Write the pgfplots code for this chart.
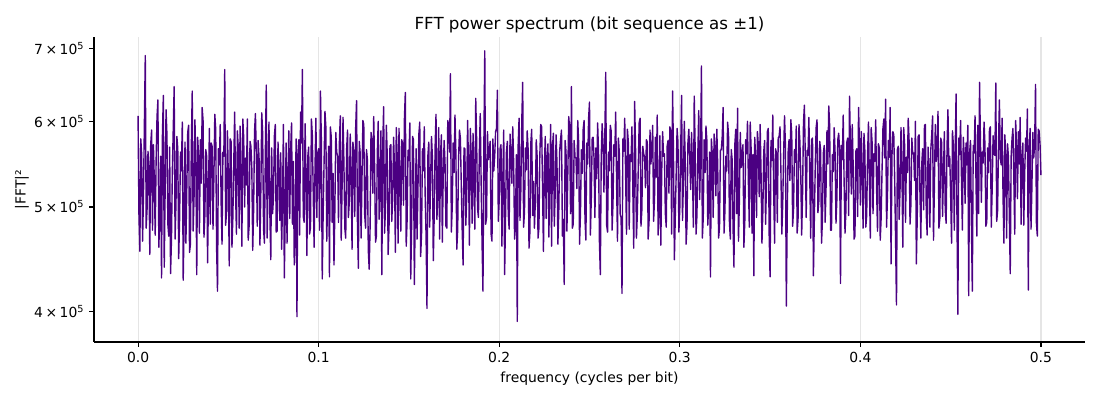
\documentclass[border=0pt]{standalone}
\usepackage{fontspec}
\setmainfont{DejaVu Sans}
\usepackage{pgfplots}
\usepackage{pgfplotstable}
\pgfplotsset{compat=1.18}
\definecolor{ind}{HTML}{4B0082}
\pgfplotstableread[row sep=\\]{
y\\
607\\490\\455\\578\\560\\465\\512\\597\\690\\478\\498\\563\\545\\452\\571\\589\\476\\571\\530\\471\\552\\606\\628\\459\\489\\557\\430\\583\\634\\440\\517\\615\\583\\482\\470\\568\\434\\466\\541\\592\\
646\\467\\503\\581\\566\\448\\487\\562\\540\\599\\428\\484\\574\\463\\521\\586\\595\\454\\462\\569\\640\\475\\509\\602\\548\\433\\580\\559\\473\\577\\526\\618\\601\\469\\491\\565\\557\\444\\515\\591\\
482\\573\\569\\477\\533\\609\\590\\458\\418\\566\\547\\596\\505\\462\\562\\557\\670\\481\\494\\588\\531\\441\\578\\575\\459\\489\\549\\612\\516\\472\\588\\567\\478\\594\\537\\460\\603\\580\\500\\555\\
524\\603\\466\\480\\575\\569\\543\\456\\497\\587\\610\\558\\480\\576\\556\\461\\518\\611\\585\\477\\463\\564\\648\\468\\527\\599\\492\\447\\567\\493\\510\\582\\596\\474\\475\\574\\540\\486\\561\\457\\
505\\596\\430\\494\\573\\463\\529\\588\\488\\565\\598\\482\\551\\442\\469\\578\\396\\559\\577\\471\\612\\573\\670\\490\\484\\597\\536\\451\\557\\568\\472\\479\\603\\583\\515\\459\\545\\604\\489\\561\\
566\\476\\640\\578\\429\\492\\548\\613\\593\\465\\512\\569\\431\\593\\580\\484\\537\\442\\499\\586\\562\\557\\484\\574\\607\\466\\523\\605\\550\\478\\468\\565\\589\\489\\506\\584\\541\\457\\574\\560\\
490\\591\\627\\482\\439\\575\\561\\468\\529\\601\\596\\492\\478\\565\\553\\456\\438\\479\\586\\578\\515\\606\\545\\464\\470\\562\\600\\487\\527\\588\\433\\570\\619\\473\\497\\595\\558\\452\\481\\569\\
571\\485\\509\\580\\544\\454\\592\\557\\463\\591\\530\\475\\577\\572\\502\\603\\638\\460\\486\\564\\552\\598\\429\\481\\581\\577\\424\\493\\566\\467\\519\\584\\599\\450\\473\\566\\540\\593\\512\\470\\
403\\558\\574\\479\\528\\581\\556\\446\\490\\568\\609\\487\\515\\592\\467\\559\\583\\464\\535\\576\\549\\480\\478\\601\\595\\562\\664\\474\\501\\573\\538\\608\\562\\457\\476\\555\\589\\579\\524\\476\\
442\\567\\566\\481\\510\\601\\547\\461\\591\\558\\483\\585\\532\\477\\630\\576\\498\\489\\561\\610\\526\\463\\418\\571\\697\\482\\489\\587\\553\\564\\575\\472\\465\\578\\540\\557\\587\\591\\641\\485\\
507\\566\\571\\460\\532\\589\\433\\488\\562\\575\\493\\477\\584\\562\\526\\593\\550\\467\\480\\559\\392\\571\\604\\486\\519\\601\\652\\479\\495\\567\\541\\588\\566\\458\\474\\573\\590\\491\\528\\478\\
505\\577\\557\\468\\478\\559\\596\\593\\520\\455\\543\\581\\488\\556\\572\\469\\531\\596\\460\\568\\585\\480\\514\\583\\549\\462\\497\\564\\578\\589\\470\\487\\424\\576\\562\\475\\538\\606\\591\\493\\
646\\478\\482\\576\\556\\555\\520\\601\\573\\462\\494\\565\\537\\590\\601\\487\\466\\573\\548\\604\\625\\471\\510\\579\\580\\555\\489\\567\\531\\598\\562\\464\\433\\557\\597\\572\\516\\583\\666\\481\\
474\\562\\540\\595\\588\\476\\503\\571\\557\\612\\526\\465\\579\\562\\492\\489\\416\\578\\563\\604\\535\\472\\590\\574\\477\\559\\551\\593\\518\\458\\626\\567\\468\\493\\543\\598\\604\\480\\497\\569\\
560\\556\\521\\577\\574\\467\\486\\589\\548\\563\\595\\485\\509\\580\\533\\608\\471\\494\\582\\461\\540\\587\\557\\560\\493\\479\\569\\576\\515\\593\\588\\472\\640\\563\\447\\489\\536\\591\\574\\474\\
498\\565\\634\\486\\527\\600\\555\\462\\481\\573\\590\\557\\519\\586\\546\\479\\633\\568\\472\\491\\561\\614\\508\\556\\675\\468\\489\\577\\538\\594\\576\\481\\502\\562\\431\\578\\559\\489\\584\\567\\
512\\590\\547\\468\\479\\564\\565\\581\\618\\473\\496\\557\\540\\599\\582\\484\\467\\565\\553\\478\\440\\572\\590\\493\\617\\465\\506\\586\\544\\561\\571\\459\\485\\577\\560\\600\\526\\479\\599\\566\\
473\\559\\432\\580\\556\\489\\587\\570\\511\\596\\538\\463\\495\\563\\576\\482\\523\\587\\591\\471\\431\\576\\552\\608\\517\\463\\566\\561\\484\\579\\581\\593\\540\\472\\503\\558\\607\\570\\405\\492\\
562\\577\\529\\602\\584\\480\\498\\565\\550\\594\\473\\488\\596\\575\\537\\471\\515\\598\\621\\557\\489\\564\\558\\605\\530\\468\\577\\579\\432\\486\\543\\592\\602\\494\\506\\575\\564\\463\\487\\561\\
570\\484\\521\\588\\548\\620\\594\\476\\476\\559\\539\\592\\561\\483\\509\\577\\585\\564\\425\\570\\553\\608\\527\\473\\496\\574\\579\\491\\633\\568\\514\\596\\548\\467\\470\\563\\566\\490\\618\\571\\
502\\587\\544\\478\\585\\563\\479\\491\\560\\599\\527\\468\\592\\574\\493\\560\\551\\602\\518\\475\\572\\567\\466\\488\\540\\591\\603\\555\\629\\479\\510\\576\\556\\618\\443\\557\\587\\583\\532\\466\\
406\\565\\569\\487\\521\\592\\546\\459\\592\\571\\484\\556\\538\\604\\575\\482\\503\\579\\560\\561\\529\\600\\443\\489\\581\\583\\515\\468\\548\\566\\497\\595\\596\\492\\471\\568\\543\\479\\565\\582\\
607\\466\\522\\596\\551\\564\\613\\478\\488\\579\\574\\490\\534\\587\\497\\483\\569\\615\\545\\557\\512\\463\\588\\571\\476\\561\\636\\487\\398\\579\\559\\601\\530\\476\\580\\558\\504\\573\\547\\595\\
414\\561\\576\\482\\418\\570\\561\\607\\532\\470\\595\\493\\652\\576\\505\\562\\549\\599\\571\\480\\484\\567\\538\\590\\593\\479\\520\\582\\560\\558\\651\\485\\496\\571\\628\\555\\547\\604\\512\\463\\
583\\560\\468\\572\\556\\489\\434\\557\\579\\591\\530\\472\\601\\568\\509\\587\\548\\605\\482\\556\\573\\481\\537\\579\\563\\616\\419\\563\\591\\477\\522\\586\\555\\570\\649\\483\\470\\590\\588\\571\\
535\\
}\spec

\begin{document}
\begin{tikzpicture}
\path[use as bounding box] (-67.68pt,-41.76pt) rectangle (724.32pt,246.24pt);
\begin{axis}[
  at={(0,0)}, anchor=south west,
  scale only axis, width=713.52pt, height=219.6pt,
  xmin=-0.0244, xmax=0.5244,
  ymode=log, ymin=375.3, ymax=718,
  axis lines*=left,
  axis line style={line width=0.8pt, black},
  every tick/.style={line width=0.8pt, black},
  tick align=outside, major tick length=3.5pt,
  xtick={0,0.1,0.2,0.3,0.4,0.5},
  xticklabels={0.0,0.1,0.2,0.3,0.4,0.5},
  ytick={400,500,600,700},
  yticklabels={4\hspace{0.18em}×\hspace{0.18em}10\textsuperscript{5},5\hspace{0.18em}×\hspace{0.18em}10\textsuperscript{5},6\hspace{0.18em}×\hspace{0.18em}10\textsuperscript{5},7\hspace{0.18em}×\hspace{0.18em}10\textsuperscript{5}},
  yminorticks=false, xminorticks=false,
  xmajorgrids, grid style={black!10, line width=0.8pt},
  tick label style={font=\fontsize{10}{12}\selectfont},
  label style={font=\fontsize{10}{12}\selectfont},
  title={FFT power spectrum (bit sequence as ±1)},
  title style={font=\fontsize{12}{14.4}\selectfont, yshift=-6.5pt},
  xlabel={frequency (cycles per bit)},
  ylabel={|FFT|²},
  every axis y label/.style={at={(axis description cs:0,0.5)}, xshift=-51.8pt, rotate=90, anchor=center},
  clip=true,
]
\addplot[ind, line width=1pt, no markers, line join=round] table[x expr=\coordindex*0.0005, y=y] {\spec};
\end{axis}
\end{tikzpicture}
\end{document}
